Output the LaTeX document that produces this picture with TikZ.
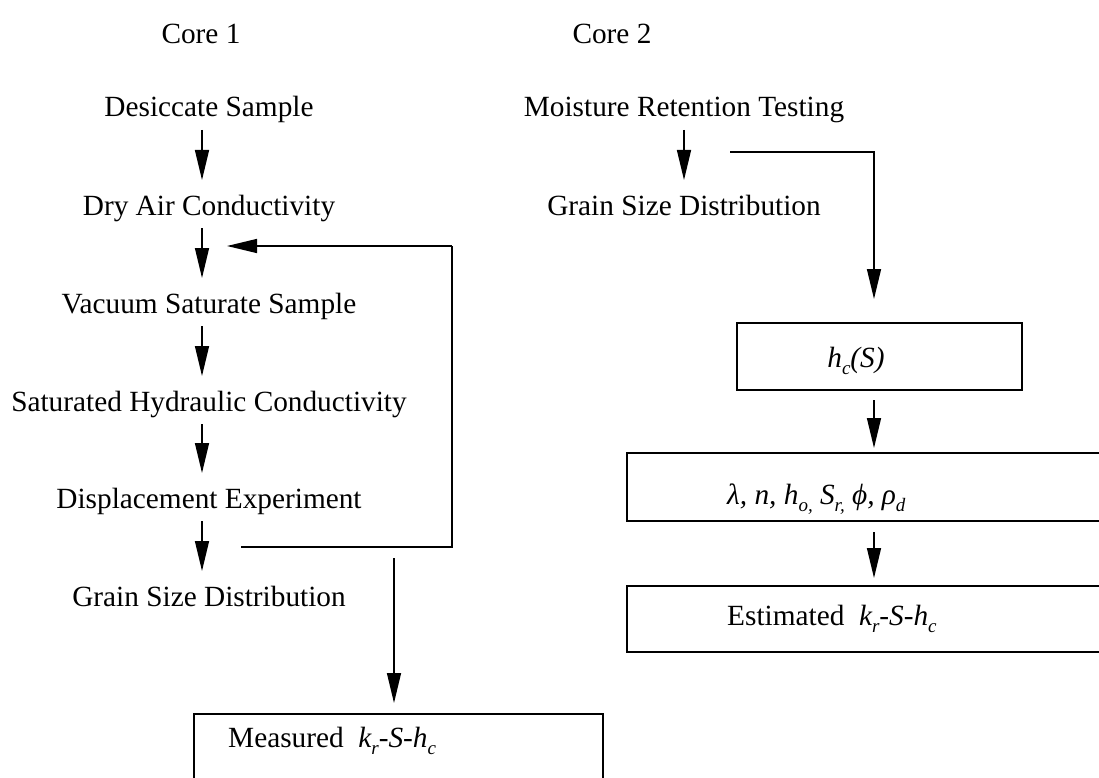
\documentclass[tikz,border=0pt]{standalone}
\usepackage{fontspec}
\setmainfont{Liberation Serif}
\usetikzlibrary{arrows.meta,calc}
\newcommand\sbs[1]{\raisebox{-0.24em}{\fontsize{19}{20}\selectfont\itshape #1}}
\begin{document}
\begin{tikzpicture}[x=1pt,y=-1pt,
  txt/.style={inner sep=0pt,anchor=base,font=\fontsize{29.3}{34}\selectfont},
  arr/.style={line width=1.5pt,-{Triangle[length=30pt,width=14pt]}},
  ln/.style={line width=1.5pt},
  box/.style={draw,line width=2pt,rectangle,anchor=north west,inner sep=0pt}]
\useasboundingbox (0,0) rectangle (1099,778);
\clip (0,0) rectangle (1099,778);
% headings
\node[txt] (core1) at (201,44) {Core 1};
\node[txt] (core2) at (612,44) {Core 2};
% left column
\node[txt] (desc) at (209,117) {Desiccate Sample};
\node[txt] (dry)  at (209,215) {Dry Air Conductivity};
\node[txt] (vac)  at (209,313) {Vacuum Saturate Sample};
\node[txt] (sat)  at (209,411) {Saturated Hydraulic Conductivity};
\node[txt] (disp) at (209,508) {Displacement Experiment};
\node[txt] (gsd1) at (209,606) {Grain Size Distribution};
\draw[arr] ($(desc.base)+(-7,13)$) -- ($(dry.base)+(-7,-35)$);
\draw[arr] ($(dry.base)+(-7,13)$) -- ($(vac.base)+(-7,-35)$);
\draw[arr] ($(vac.base)+(-7,13)$) -- ($(sat.base)+(-7,-35)$);
\draw[arr] ($(sat.base)+(-7,13)$) -- ($(disp.base)+(-7,-35)$);
\draw[arr] ($(disp.base)+(-7,13)$) -- ($(gsd1.base)+(-7,-35)$);
% feedback loop
\coordinate (fbs) at (241,547);
\coordinate (fbc) at (452,246);
\coordinate (fbe) at (227,246);
\draw[ln] (fbs) -| (fbc);
\draw[arr] (fbc) -- (fbe);
% measured box
\node[box,minimum width=409pt,minimum height=120pt] (meas) at (193,713) {};
\node[txt,anchor=base west] (meastxt) at (228,747) {Measured\ \ {\itshape k\sbs{r}-S-h\sbs{c}}};
\coordinate (ms) at (394,558);
\draw[arr] (ms) -- ([yshift=10pt]meas.north -| ms);
% right column
\node[txt] (mrt)  at (684,117) {Moisture Retention Testing};
\node[txt] (gsd2) at (684,215) {Grain Size Distribution};
\draw[arr] ($(mrt.base)+(0,13)$) -- ($(gsd2.base)+(0,-35)$);
\node[box,minimum width=285pt,minimum height=67pt] (hc) at (736,322) {};
\node[txt] (hctxt) at (856,367) {{\itshape h\sbs{c}(S)}};
\coordinate (rs) at (730,152);
\coordinate (rt) at (874,299);
\draw[arr] (rs) -| (rt);
\node[box,minimum width=560pt,minimum height=68pt] (par) at (626,452) {};
\node[txt,anchor=base west] (partxt) at (727,504) {{\itshape λ, n, h\sbs{o,} S\sbs{r,} ϕ, ρ\sbs{d}}};
\draw[arr] ([yshift=-9pt]hc.south -| rt) -- ([yshift=4pt]par.north -| rt);
\node[box,minimum width=560pt,minimum height=66pt] (est) at (626,585) {};
\node[txt,anchor=base west] (esttxt) at (727,625) {Estimated\ \ {\itshape k\sbs{r}-S-h\sbs{c}}};
\draw[arr] ([yshift=-10pt]par.south -| rt) -- ([yshift=7pt]est.north -| rt);
\end{tikzpicture}
\end{document}
